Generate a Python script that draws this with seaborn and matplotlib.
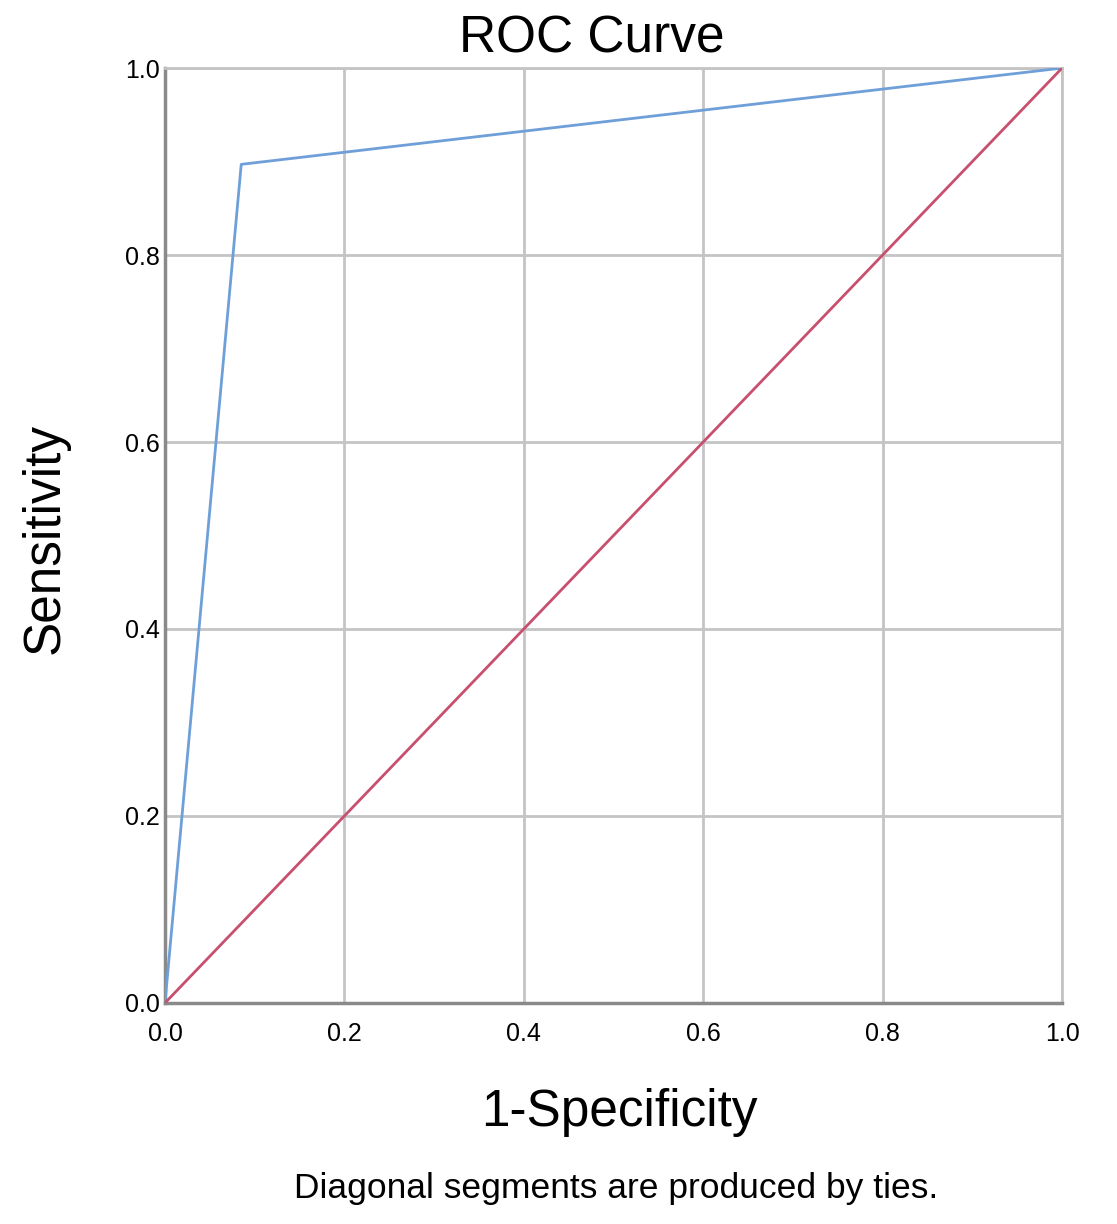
import pandas as pd
import matplotlib
matplotlib.use('Agg')
import matplotlib.pyplot as plt
import seaborn as sns

# ROC 曲线数据
fpr = [0.0, 0.085, 1.0]
tpr = [0.0, 0.897, 1.0]
ref_x = [0.0, 1.0]
ref_y = [0.0, 1.0]
ticks = [0.0, 0.2, 0.4, 0.6, 0.8, 1.0]

sns.set_style('white')
plt.rcParams['font.family'] = ['Liberation Sans', 'DejaVu Sans']
plt.rcParams['text.color'] = 'black'
plt.rcParams['xtick.color'] = 'black'
plt.rcParams['ytick.color'] = 'black'

fig = plt.figure(figsize=(11.17, 12.24), dpi=100)
ax = fig.add_axes([0.1477, 0.1806, 0.8031, 0.7638])

roc = pd.DataFrame({'x': fpr, 'y': tpr})
diag = pd.DataFrame({'x': ref_x, 'y': ref_y})
sns.lineplot(data=roc, x='x', y='y', sort=False, color='#6f9fd8', linewidth=2, ax=ax, zorder=3)
sns.lineplot(data=diag, x='x', y='y', sort=False, color='#c8506e', linewidth=2, ax=ax, zorder=3)

ax.set_xlim(0, 1)
ax.set_ylim(0, 1)
ax.set_xticks(ticks)
ax.set_yticks(ticks)
ax.set_xticklabels([f'{t:.1f}' for t in ticks])
ax.set_yticklabels([f'{t:.1f}' for t in ticks])
ax.tick_params(length=0, labelsize=18, labelcolor='black')
ax.tick_params(axis='x', pad=14)
ax.tick_params(axis='y', pad=4)
ax.grid(True, color='#c4c4c4', linewidth=2)
ax.set_axisbelow(True)

for s in ['top', 'right']:
    ax.spines[s].set_color('#c4c4c4')
    ax.spines[s].set_linewidth(2)
for s in ['left', 'bottom']:
    ax.spines[s].set_color('#8a8a8a')
    ax.spines[s].set_linewidth(2.5)

ax.set_xlabel('')
ax.set_ylabel('')
fig.text(0.53, 0.968, 'ROC Curve', ha='center', va='center', fontsize=37, color='black')
fig.text(0.040, 0.56, 'Sensitivity', ha='center', va='center', rotation=90, fontsize=37, color='black')
fig.text(0.555, 0.091, '1-Specificity', ha='center', va='center', fontsize=37, color='black')
fig.text(0.552, 0.029, 'Diagonal segments are produced by ties.', ha='center', va='center',
         fontsize=25.5, color='black')

fig.savefig('out.png', dpi=100)
